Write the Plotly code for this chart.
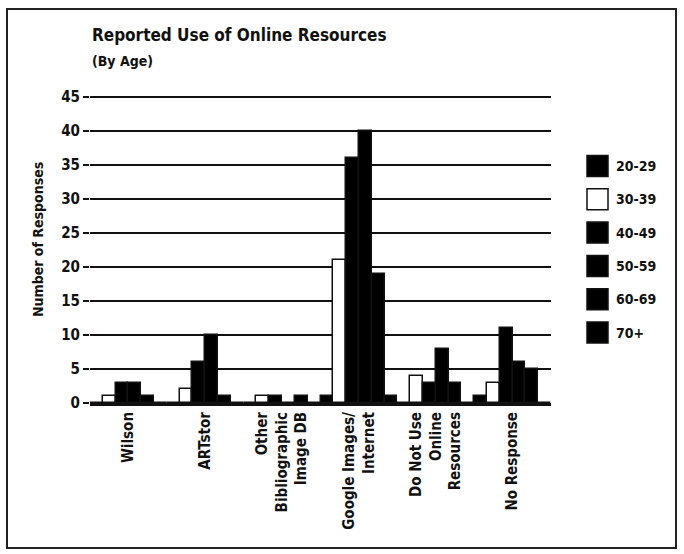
import plotly.graph_objects as go

# Survey responses: reported use of online image resources, grouped by respondent age
categories = [
    "Wilson",
    "ARTstor",
    "Other<br>Bibliographic<br>Image DB",
    "Google Images/<br>Internet",
    "Do Not Use<br>Online<br>Resources",
    "No Response",
]
age_groups = ["20-29", "30-39", "40-49", "50-59", "60-69", "70+"]

age_20_29 = [0, 0, 0, 1, 0, 1]
age_30_39 = [1, 2, 1, 21, 4, 3]
age_40_49 = [3, 6, 1, 36, 3, 11]
age_50_59 = [3, 10, 0, 40, 8, 6]
age_60_69 = [1, 1, 1, 19, 3, 5]
age_70_plus = [0, 0, 0, 1, 0, 0]

series = [age_20_29, age_30_39, age_40_49, age_50_59, age_60_69, age_70_plus]
fills = ["#000000", "#ffffff", "#000000", "#000000", "#000000", "#000000"]

y_ticks = [0, 5, 10, 15, 20, 25, 30, 35, 40, 45]

FONT = "DejaVu Sans Condensed, Liberation Sans Narrow, Liberation Sans, sans-serif"
INK = "#111111"

# plot-area geometry in pixels (used to place paper-referenced decorations)
W, H = 684, 554
L, R, T, B = 90, 133, 96, 151
PW, PH = W - L - R, H - T - B
Y_TOP = 45.15  # a little headroom so the 45 gridline is drawn


def px_x(x):
    return (x - L) / PW


def px_y(y):
    return (H - B - y) / PH


fig = go.Figure()
for name, vals, col in zip(age_groups, series, fills):
    fig.add_trace(go.Bar(
        x=categories, y=vals, name=name,
        marker=dict(color=col, line=dict(color=INK, width=1.5)),
        showlegend=False,
    ))

fig.update_layout(
    width=W, height=H,
    margin=dict(l=L, r=R, t=T, b=B),
    paper_bgcolor="white", plot_bgcolor="white",
    barmode="group", bargap=0.0, bargroupgap=0.0,
    font=dict(family=FONT, color=INK, size=13),
)

fig.update_yaxes(
    range=[0, Y_TOP], tickvals=y_ticks,
    showgrid=True, gridcolor=INK, gridwidth=1.6,
    ticks="outside", ticklen=6, tickwidth=2, tickcolor=INK,
    tickfont=dict(family=FONT, size=15, color=INK, weight="bold"),
    showline=False, zeroline=False, fixedrange=True,
)
fig.update_xaxes(
    showline=True, linecolor=INK, linewidth=3,
    ticks="", tickangle=-90,
    tickfont=dict(family=FONT, size=15, color=INK, weight="bold"),
    showgrid=False, fixedrange=True,
)

annotations = [
    dict(text="Reported Use of Online Resources", x=px_x(90), y=px_y(35),
         xanchor="left", yanchor="middle",
         font=dict(family=FONT, size=17, color=INK, weight="bold")),
    dict(text="(By Age)", x=px_x(90), y=px_y(61),
         xanchor="left", yanchor="middle",
         font=dict(family=FONT, size=14, color=INK, weight="bold")),
    dict(text="Number of Responses", x=px_x(38), y=px_y(240), textangle=-90,
         xanchor="center", yanchor="middle",
         font=dict(family=FONT, size=14, color=INK, weight="bold")),
]

shapes = [
    # outer frame
    dict(type="rect", xref="paper", yref="paper",
         x0=px_x(7), x1=px_x(676), y0=px_y(548), y1=px_y(9),
         line=dict(color="#222222", width=2), fillcolor="rgba(0,0,0,0)"),
]

# legend: swatch + label per age group
for i, (name, col) in enumerate(zip(age_groups, fills)):
    cy = 166 + i * 33.3
    shapes.append(dict(
        type="rect", xref="paper", yref="paper",
        x0=px_x(587), x1=px_x(608), y0=px_y(cy + 10.5), y1=px_y(cy - 10.5),
        fillcolor=col, line=dict(color=INK, width=1.5),
    ))
    annotations.append(dict(
        text=name, x=px_x(614), y=px_y(cy), xanchor="left", yanchor="middle",
        font=dict(family=FONT, size=14, color=INK, weight="bold"),
    ))

for a in annotations:
    a.update(xref="paper", yref="paper", showarrow=False)

fig.update_layout(annotations=annotations, shapes=shapes)

fig.write_html("out.html")
